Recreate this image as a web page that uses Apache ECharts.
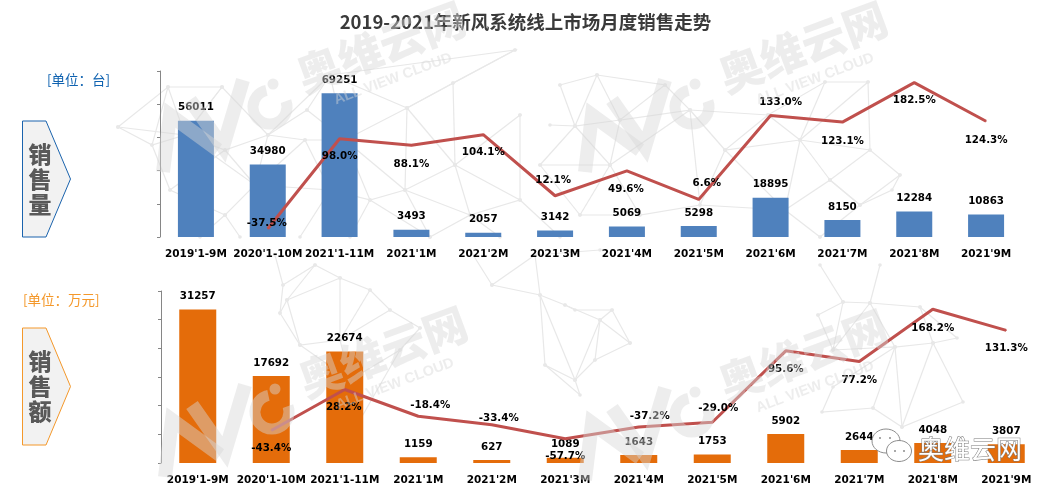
<!doctype html>
<html>
<head>
<meta charset="UTF-8">
<title>2019-2021年新风系统线上市场月度销售走势</title>
<script src="https://cdn.jsdelivr.net/npm/echarts@6/dist/echarts.min.js"></script>
<style>
html,body{margin:0;padding:0;background:#fff}
#main{width:1057px;height:495px}
</style>
</head>
<body>
<div id="main"></div>
<script>
var categories = ["2019'1-9M","2020'1-10M","2021'1-11M","2021'1M","2021'2M","2021'3M","2021'4M","2021'5M","2021'6M","2021'7M","2021'8M","2021'9M"];
var volume = [56011,34980,69251,3493,2057,3142,5069,5298,18895,8150,12284,10863];
var volumeGrowth = [null,-37.5,98.0,88.1,104.1,12.1,49.6,6.6,133.0,123.1,182.5,124.3];
var amount = [31257,17692,22674,1159,627,1089,1643,1753,5902,2644,4048,3807];
var amountGrowth = [null,-43.4,28.2,-18.4,-33.4,-57.7,-37.2,-29.0,95.6,77.2,168.2,131.3];

// 折线标签相对数据点的偏移
var volumeShift = [[0,0],[-1,-5],[0,18],[0,19],[0,18],[-2,-15],[-1,18],[8,-16],[10,-13],[0,19],[0,18],[0,19]];
var amountShift = [[0,0],[0,18],[-1,18],[12,-11],[7,-6],[0,18],[11,-11],[6,-14],[0,18],[0,19],[0,19],[0,18]];

var numFont = 'DejaVu Sans';
var cjkFont = '"Noto Sans CJK SC"';
var netColor = '#e8e8e8';
var markColor = 'rgba(215,215,215,0.45)';

// 背景网格线
var netPaths = [
  [118,127,168,87,222,87,268,135,255,185,225,215,240,237],
  [118,127,152,145,170,190,225,215],
  [118,127,185,135,168,87],
  [168,87,152,145,185,135,222,87],
  [222,87,185,135,225,150,268,135,305,140,345,140,407,108,515,50,330,75,268,135],
  [225,150,255,185,185,135],[170,190,225,150],[225,215,200,237],
  [330,75,345,140,307,110,268,135],[307,110,330,75],[330,75,407,108],
  [345,140,370,200,405,190,455,165,520,115],
  [407,108,453,83,515,50],[453,83,455,165],[407,108,405,190],[407,108,455,165],
  [305,140,330,190,370,200,350,237],[255,185,305,140],[255,185,330,190,300,237],
  [405,190,430,237],[370,200,430,237],[345,140,405,190],
  [455,165,470,215,520,200,560,237],[405,190,470,215,430,237],[470,215,500,237],
  [520,115,520,200],[455,165,520,200],
  [560,85,597,75,665,85,620,120,575,126,560,85],
  [597,75,620,120,690,110,665,85],[597,75,575,126],
  [575,126,610,165,620,120],[550,125,575,126,540,165,610,165],
  [610,165,690,110],[610,165,640,215,700,205,690,110],[540,165,580,215,640,215],[580,215,610,165],
  [690,110,768,115,825,82,868,82,800,140,768,115],
  [825,82,800,140,830,180,785,210,725,150,690,110],
  [800,140,870,150,900,175,860,205,830,180,870,150,868,82],
  [900,175,892,190,860,205],[768,115,725,150,800,140],[800,140,785,210],
  [725,150,700,205,785,210],[785,210,820,237],[860,205,820,237],[830,180,860,205],
  [275,255,283,285,280,313,287,300,315,265,340,278,370,290,390,310,420,328],
  [283,285,315,265],[287,300,340,278],[280,313,300,345,340,340,390,310],[340,278,340,340],[287,300,300,345],
  [300,345,350,380,360,420],[340,340,350,380,400,350,420,328],[370,290,340,340],[400,350,360,420],
  [492,285,535,255],[492,285,540,295,565,305,600,320,630,343],[470,250,492,285],[535,255,600,250],
  [535,255,540,295,545,365,575,380,600,320],
  [565,305,575,310,612,310,600,320],[540,295,575,380],[612,310,630,343],
  [575,380,595,360,630,343],[545,365,580,395,575,380],[595,360,600,320],
  [818,315,843,302,870,303,920,307,957,338,933,343,895,347,870,303],
  [818,315,833,350,895,347,873,408,822,412,833,387,895,347],
  [843,302,833,350,870,303],[820,265,843,302],[870,303,880,265],
  [933,343,963,402,902,427,873,408],[933,343,902,427],[920,307,933,343],[895,347,902,427]
];

function netGraphics(){
  var list = [];
  netPaths.forEach(function(p){
    var pts = [];
    for(var i=0;i<p.length;i+=2){
      pts.push([p[i],p[i+1]]);
      list.push({type:'circle',z:0,silent:true,shape:{cx:p[i],cy:p[i+1],r:1.8},style:{fill:netColor}});
    }
    list.push({type:'polyline',z:0,silent:true,shape:{points:pts},style:{stroke:netColor,lineWidth:1.2,fill:null}});
  });
  return list;
}

// 水印
function markTile(dx,dy){
  var lineStyle = {stroke:markColor,lineWidth:14,fill:null,lineJoin:'miter'};
  return {
    type:'group',x:dx,y:dy,silent:true,
    children:[
      {type:'polyline',z:5,shape:{points:[[163,172],[170,115],[218,150]]},style:lineStyle},
      {type:'polyline',z:5,shape:{points:[[190,100],[223,147],[243,80]]},style:lineStyle},
      {type:'arc',z:5,shape:{cx:270,cy:107,r:17,startAngle:-0.35,endAngle:4.5,clockwise:true},style:{stroke:markColor,lineWidth:11,fill:null}},
      {type:'circle',z:5,shape:{cx:273,cy:84,r:5.5},style:{fill:markColor}},
      {type:'text',z:5,x:381,y:47,rotation:0.356,style:{text:'奥维云网',font:'900 44px '+cjkFont,fill:markColor,textAlign:'center',textVerticalAlign:'middle'}},
      {type:'text',z:5,x:393,y:79,rotation:0.356,style:{text:'ALL VIEW CLOUD',font:'bold 14.5px "Liberation Sans"',fill:markColor,textAlign:'center',textVerticalAlign:'middle'}}
    ]
  };
}

function arrowBox(top,bottom,stroke,word){
  var mid = (top+bottom)/2;
  var items = [{
    type:'polygon',z:1,silent:true,
    shape:{points:[[22.5,top],[46,top],[70.5,mid],[46,bottom],[22.5,bottom]]},
    style:{fill:'#f2f2f2',stroke:stroke,lineWidth:1}
  }];
  for(var i=0;i<word.length;i++){
    items.push({type:'text',z:2,silent:true,x:40,y:mid-25+i*25,style:{text:word.charAt(i),font:'900 23px '+cjkFont,fill:'#595959',textAlign:'center',textVerticalAlign:'middle'}});
  }
  return items;
}

function wechatStamp(){
  var s = {fill:'#fff',stroke:'#8c8c8c',lineWidth:1};
  var dots = [[880,438],[890,438],[895,451],[904,451]].map(function(d){
    return {type:'circle',z:9,silent:true,shape:{cx:d[0],cy:d[1],r:1},style:{fill:'#8c8c8c'}};
  });
  return [
    {type:'ellipse',z:8,silent:true,shape:{cx:886,cy:441,rx:14,ry:12},style:s},
    {type:'ellipse',z:8,silent:true,shape:{cx:899,cy:451,rx:12.5,ry:10.5},style:s},
    {type:'text',z:8,silent:true,x:970,y:449,style:{text:'奥维云网',font:'26px '+cjkFont,fill:'#fff',stroke:'#7a7a7a',lineWidth:1,textAlign:'center',textVerticalAlign:'middle'}}
  ].concat(dots);
}

function growthData(values,shift){
  return values.map(function(v,i){
    return {value:v,label:{offset:shift[i]}};
  });
}

function barLabel(){
  return {show:true,position:'top',distance:8,color:'#000',fontFamily:numFont,fontWeight:'bold',fontSize:10.3};
}

function lineSeries(values,shift,xi,yi){
  return {
    type:'line',xAxisIndex:xi,yAxisIndex:yi,z:3,
    data:growthData(values,shift),
    symbol:'circle',symbolSize:1,showSymbol:true,connectNulls:false,
    lineStyle:{color:'#c0504d',width:3},
    itemStyle:{color:'#c0504d'},
    label:{show:true,position:'inside',color:'#000',fontFamily:numFont,fontWeight:'bold',fontSize:10.3,
      formatter:function(p){return p.value==null?'':p.value.toFixed(1)+'%';}},
    animation:false
  };
}

function catAxis(gi){
  return {
    type:'category',gridIndex:gi,data:categories,
    axisLine:{show:false},axisTick:{show:false},
    axisLabel:{interval:0,margin:12,color:'#000',fontFamily:numFont,fontWeight:'bold',fontSize:10.5}
  };
}

function valAxis(gi,max,interval){
  return {
    type:'value',gridIndex:gi,min:0,max:max,interval:interval,
    axisLine:{show:true,lineStyle:{color:'#868686',width:1}},
    axisTick:{show:true,length:3,lineStyle:{color:'#868686'}},
    axisLabel:{show:false},splitLine:{show:false}
  };
}

function hiddenAxis(gi,min,max){
  return {type:'value',gridIndex:gi,min:min,max:max,show:false,splitLine:{show:false}};
}

var graphic = netGraphics()
  .concat(arrowBox(121,237,'#1a63ad','销售量'))
  .concat(arrowBox(328,445,'#f4982a','销售额'))
  .concat([
    {type:'text',z:2,silent:true,x:525.5,y:22,style:{text:'2019-2021年新风系统线上市场月度销售走势',font:'bold 18.5px '+cjkFont,fill:'#3a3a3a',textAlign:'center',textVerticalAlign:'middle'}},
    {type:'text',z:2,silent:true,x:47,y:80,style:{text:'[单位：台]',font:'13.5px '+cjkFont,fill:'#0f62b0',textAlign:'left',textVerticalAlign:'middle'}},
    {type:'text',z:2,silent:true,x:23,y:300,style:{text:'[单位：万元]',font:'13.5px '+cjkFont,fill:'#f4982a',textAlign:'left',textVerticalAlign:'middle'}},
    markTile(0,0),markTile(422,0),markTile(2,305),markTile(422,308)
  ])
  .concat(wechatStamp());

var myChart = echarts.init(document.getElementById('main'));
myChart.setOption({
  animation:false,
  backgroundColor:'#fff',
  grid:[
    {left:160,top:71,width:862,height:166},
    {left:161,top:291,width:882,height:172}
  ],
  xAxis:[catAxis(0),catAxis(1)],
  yAxis:[
    valAxis(0,80000,16000),hiddenAxis(0,-50,200),
    valAxis(1,35000,35000/6),hiddenAxis(1,-100,200)
  ],
  graphic:{elements:graphic},
  series:[
    {type:'bar',xAxisIndex:0,yAxisIndex:0,z:2,barWidth:36,data:volume,itemStyle:{color:'#4f81bd'},label:barLabel()},
    lineSeries(volumeGrowth,volumeShift,0,1),
    {type:'bar',xAxisIndex:1,yAxisIndex:2,z:2,barWidth:37,data:amount,itemStyle:{color:'#e46c0a'},label:barLabel()},
    lineSeries(amountGrowth,amountShift,1,3)
  ]
});
</script>
</body>
</html>
